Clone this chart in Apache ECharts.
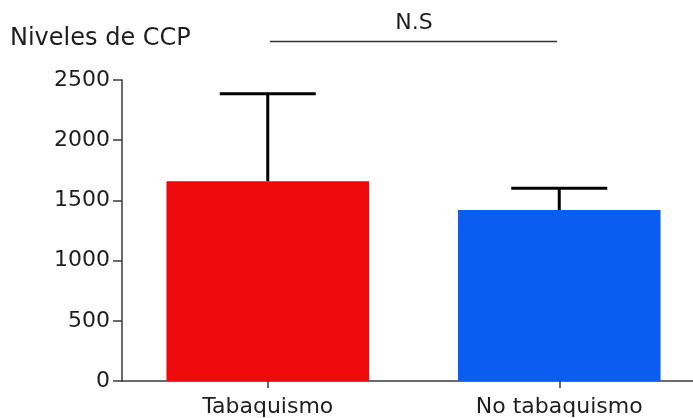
<!DOCTYPE html>
<html>
<head>
<meta charset="utf-8">
<script src="https://cdn.jsdelivr.net/npm/echarts@6/dist/echarts.min.js"></script>
<style>
  html, body { margin: 0; padding: 0; background: #fff; }
  #chart { width: 693px; height: 418px; }
</style>
</head>
<body>
<div id="chart"></div>
<script>
// Grupos y niveles medios de CCP con su barra de error superior
const categories = ['Tabaquismo', 'No tabaquismo'];
const means = [1660, 1420];
const upperErr = [2385, 1600];
const barColors = ['#ee0a0a', '#0b5cf0'];
const yTicks = { min: 0, max: 2500, interval: 500 };

const FONT = 'DejaVu Sans';
const TEXT = '#1e1e1e';
const AXIS = '#3a3a3a';

const chart = echarts.init(document.getElementById('chart'), null, { renderer: 'canvas' });

const barData = means.map((v, i) => ({ value: v, itemStyle: { color: barColors[i] } }));
const errData = means.map((v, i) => [i, v, upperErr[i]]);

chart.setOption({
  animation: false,
  backgroundColor: '#ffffff',
  // the plot area runs past the right edge, so the x axis line meets the border
  grid: { left: 122, width: 583, top: 80, bottom: 37, outerBoundsMode: 'none', containLabel: false },
  xAxis: {
    type: 'category',
    data: categories,
    axisLine: { show: true, lineStyle: { color: AXIS, width: 1.5 } },
    axisTick: { show: true, alignWithLabel: true, length: 7, lineStyle: { color: AXIS, width: 1.5 } },
    axisLabel: { color: TEXT, fontFamily: FONT, fontSize: 22, margin: 15 }
  },
  yAxis: {
    type: 'value',
    min: yTicks.min,
    max: yTicks.max,
    interval: yTicks.interval,
    splitLine: { show: false },
    axisLine: { show: true, lineStyle: { color: AXIS, width: 1.5 } },
    axisTick: { show: true, length: 9, lineStyle: { color: AXIS, width: 1.5 } },
    axisLabel: {
      color: TEXT, fontFamily: FONT, fontSize: 22, margin: 12,
      formatter: function (v) { return String(v); }
    }
  },
  series: [
    {
      type: 'bar',
      data: barData,
      barWidth: '69.5%',
      z: 2
    },
    {
      type: 'custom',
      data: errData,
      z: 3,
      renderItem: function (params, api) {
        const i = api.value(0);
        const base = api.coord([i, api.value(1)]);
        const top = api.coord([i, api.value(2)]);
        const half = 48;
        const style = { stroke: '#000', lineWidth: 3 };
        return {
          type: 'group',
          children: [
            { type: 'line', shape: { x1: base[0], y1: base[1], x2: top[0], y2: top[1] }, style: style },
            { type: 'line', shape: { x1: top[0] - half, y1: top[1], x2: top[0] + half, y2: top[1] }, style: style }
          ]
        };
      }
    }
  ],
  graphic: [
    {
      type: 'text', left: 10, top: 27,
      style: { text: 'Niveles de CCP', fill: TEXT, font: '24px "' + FONT + '"' }
    },
    {
      type: 'text', x: 414, y: 23,
      style: { text: 'N.S', fill: TEXT, font: '22px "' + FONT + '"', align: 'center', verticalAlign: 'middle' }
    },
    {
      type: 'line',
      shape: { x1: 270, y1: 41.5, x2: 557, y2: 41.5 },
      style: { stroke: '#333', lineWidth: 1.5 }
    }
  ]
});
</script>
</body>
</html>
